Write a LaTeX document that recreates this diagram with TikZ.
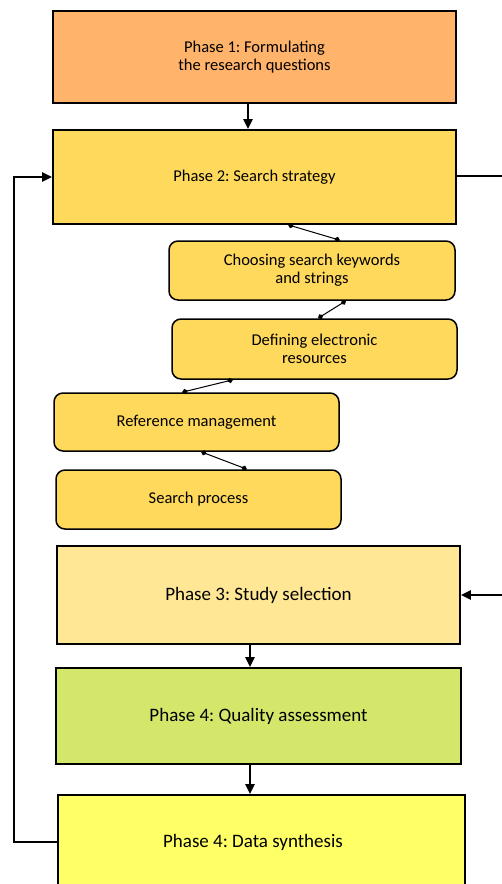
\documentclass[tikz,border=0pt]{standalone}
\usepackage{fontspec}
\setmainfont{Carlito}
\usetikzlibrary{arrows.meta,calc}
\frenchspacing
\definecolor{cOrange}{HTML}{FFB36B}
\definecolor{cGold}{HTML}{FFD95B}
\definecolor{cPale}{HTML}{FFE796}
\definecolor{cGreen}{HTML}{D4E76B}
\definecolor{cYellow}{HTML}{FFFF66}
\tikzset{
  phase/.style={draw=black, line width=1.6pt, minimum width=#1, align=center, inner sep=0pt},
  subbox/.style={draw=black, line width=1.5pt, fill=cGold, rounded corners=9pt, align=center, inner sep=0pt, font=\fontsize{16.5}{18}\selectfont},
  flow/.style={line width=2.3pt, -{Triangle[length=10pt,width=9pt]}},
  plain/.style={line width=2.3pt},
  link/.style={line width=1pt, {Diamond[length=6pt,width=5.5pt]}-{Diamond[length=6pt,width=5.5pt]}}
}
\begin{document}
\begin{tikzpicture}[x=1pt,y=-1pt]
\useasboundingbox (0,0) rectangle (502,884);
\clip (0,0) rectangle (502,884);
\node[phase=403pt, fill=cOrange, minimum height=92pt, font=\fontsize{16.5}{18}\selectfont] (p1) at (254.5,57) {Phase 1: Formulating\\the research questions};
\node[phase=403pt, fill=cGold, minimum height=94pt, font=\fontsize{16.5}{18}\selectfont] (p2) at (254.5,177) {Phase 2: Search strategy};
\node[subbox, minimum width=286pt, minimum height=59pt] (s1) at (312,270.5) {Choosing search keywords\\and strings};
\node[subbox, minimum width=285pt, minimum height=60pt] (s2) at (314.5,349) {Defining electronic\\resources};
\node[subbox, minimum width=285pt, minimum height=58pt] (s3) at (196.5,422) {Reference management};
\node[subbox, minimum width=285pt, minimum height=59pt] (s4) at (198.5,499.5) {Search process};
\node[phase=403pt, fill=cPale, minimum height=98pt, font=\fontsize{19}{21}\selectfont] (p3) at (258.5,595) {Phase 3: Study selection};
\node[phase=405pt, fill=cGreen, minimum height=96pt, font=\fontsize{19}{21}\selectfont] (p4) at (258.5,716) {Phase 4: Quality assessment};
\node[phase=407pt, fill=cYellow, minimum height=120pt] (p5) at (261.5,855) {};
\node[font=\fontsize{19}{21}\selectfont] (p5t) at (253,842) {Phase 4: Data synthesis};
% main flow
\draw[flow] (p1.south -| 248,0) -- (p2.north -| 248,0);
\draw[flow] (p3.south -| 250,0) -- (p4.north -| 250,0);
\draw[flow] (p4.south -| 250,0) -- (p5.north -| 250,0);
\coordinate (rOut) at (502,176);
\coordinate (rIn) at (502,595);
\draw[plain] (p2.east |- rOut) -- (rOut);
\draw[flow] (rIn) -- (p3.east |- rIn);
\coordinate (lBot) at (14,842);
\coordinate (lTop) at (14,177);
\draw[flow] (p5.west |- lBot) -- (lBot) -- (lTop) -- (p2.west |- lTop);
% sub links
\draw[link] (p2.south -| 288,0) -- (s1.north -| 340,0);
\draw[link] (s1.south -| 346,0) -- (s2.north -| 318,0);
\draw[link] (s2.south -| 233,0) -- (s3.north -| 182,0);
\draw[link] (s3.south -| 201,0) -- (s4.north -| 247,0);
\end{tikzpicture}
\end{document}
